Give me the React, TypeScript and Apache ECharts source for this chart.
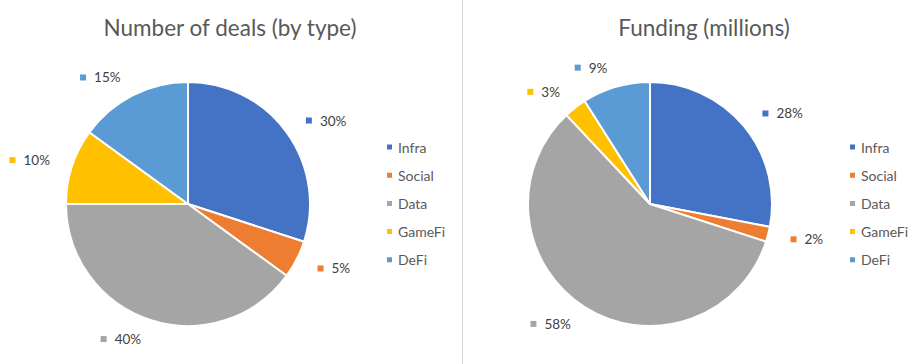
import React, { useEffect, useRef } from 'react';
import * as echarts from 'echarts';

const categories = ['Infra', 'Social', 'Data', 'GameFi', 'DeFi'];
const dealsShare = [30, 5, 40, 10, 15];
const fundingShare = [28, 2, 58, 3, 9];
const colors = ['#4472C4', '#ED7D31', '#A5A5A5', '#FFC000', '#5B9BD5'];
const chartTitles = ['Number of deals (by type)', 'Funding (millions)'];

const FONT = 'Lato, "Open Sans", sans-serif';

function makeRich() {
  const rich: Record<string, any> = {
    v: { fontFamily: FONT, fontSize: 13.5, color: '#404040', padding: [0, 0, 0, 8] },
  };
  colors.forEach((c, i) => {
    rich['m' + i] = { width: 6, height: 6, backgroundColor: c };
  });
  return rich;
}

function makeSeries(values: number[], center: [number, number]) {
  return {
    type: 'pie',
    center,
    radius: 122,
    startAngle: 90,
    clockwise: true,
    avoidLabelOverlap: false,
    itemStyle: { borderColor: '#ffffff', borderWidth: 2 },
    label: {
      show: true,
      position: 'outside',
      distanceToLabelLine: 3,
      formatter: (p: any) => `{m${p.dataIndex}|}{v|${p.value}%}`,
      rich: makeRich(),
    },
    labelLine: { show: false, length: 20, length2: 0 },
    emphasis: { disabled: true },
    data: categories.map((n, i) => ({ name: n, value: values[i] })),
  };
}

function makeLegend(left: number) {
  return {
    orient: 'vertical',
    left,
    top: 135,
    itemWidth: 7,
    itemHeight: 7,
    itemGap: 14.2,
    icon: 'rect',
    selectedMode: false,
    data: categories,
    textStyle: { fontFamily: FONT, fontSize: 14, color: '#595959', lineHeight: 14 },
  };
}

export default function App() {
  const ref = useRef<HTMLDivElement>(null);
  useEffect(() => {
    document.body.style.margin = '0';
    if (!ref.current) return;
    const chart = echarts.init(ref.current, undefined, { renderer: 'svg' });
    const seriesValues = [dealsShare, fundingShare];
    chart.setOption({
      animation: false,
      color: colors,
      backgroundColor: '#ffffff',
      legend: [makeLegend(380), makeLegend(843)],
      series: [makeSeries(dealsShare, [188, 204]), makeSeries(fundingShare, [650, 204])],
      labelLayout: (params: any) => {
        const vals = seriesValues[params.seriesIndex];
        if (!vals) return {};
        const total = vals.reduce((a, b) => a + b, 0);
        let cum = 0;
        for (let i = 0; i < params.dataIndex; i++) cum += vals[i];
        cum += vals[params.dataIndex] / 2;
        const ang = (cum / total) * Math.PI * 2;
        const dx = Math.sin(ang);
        const dy = -Math.cos(ang);
        if (dy < 0 && Math.abs(dx) < 0.3) {
          const w = params.labelRect.width;
          return { dx: (dx < 0 ? 1 : -1) * (w / 2 + 3) };
        }
        return {};
      },
      graphic: [
        {
          type: 'line',
          shape: { x1: 462.5, y1: 0, x2: 462.5, y2: 364 },
          style: { stroke: '#d9d9d9', lineWidth: 1 },
          silent: true,
        },
        {
          type: 'text',
          x: 230,
          y: 27,
          style: {
            text: chartTitles[0],
            fontFamily: FONT,
            fontSize: 22.5,
            fill: '#595959',
            textAlign: 'center',
            textVerticalAlign: 'middle',
          },
        },
        {
          type: 'text',
          x: 704,
          y: 27,
          style: {
            text: chartTitles[1],
            fontFamily: FONT,
            fontSize: 22.5,
            fill: '#595959',
            textAlign: 'center',
            textVerticalAlign: 'middle',
          },
        },
      ],
    });
    return () => chart.dispose();
  }, []);
  return <div ref={ref} style={{ width: 922, height: 364, background: '#fff' }} />;
}
